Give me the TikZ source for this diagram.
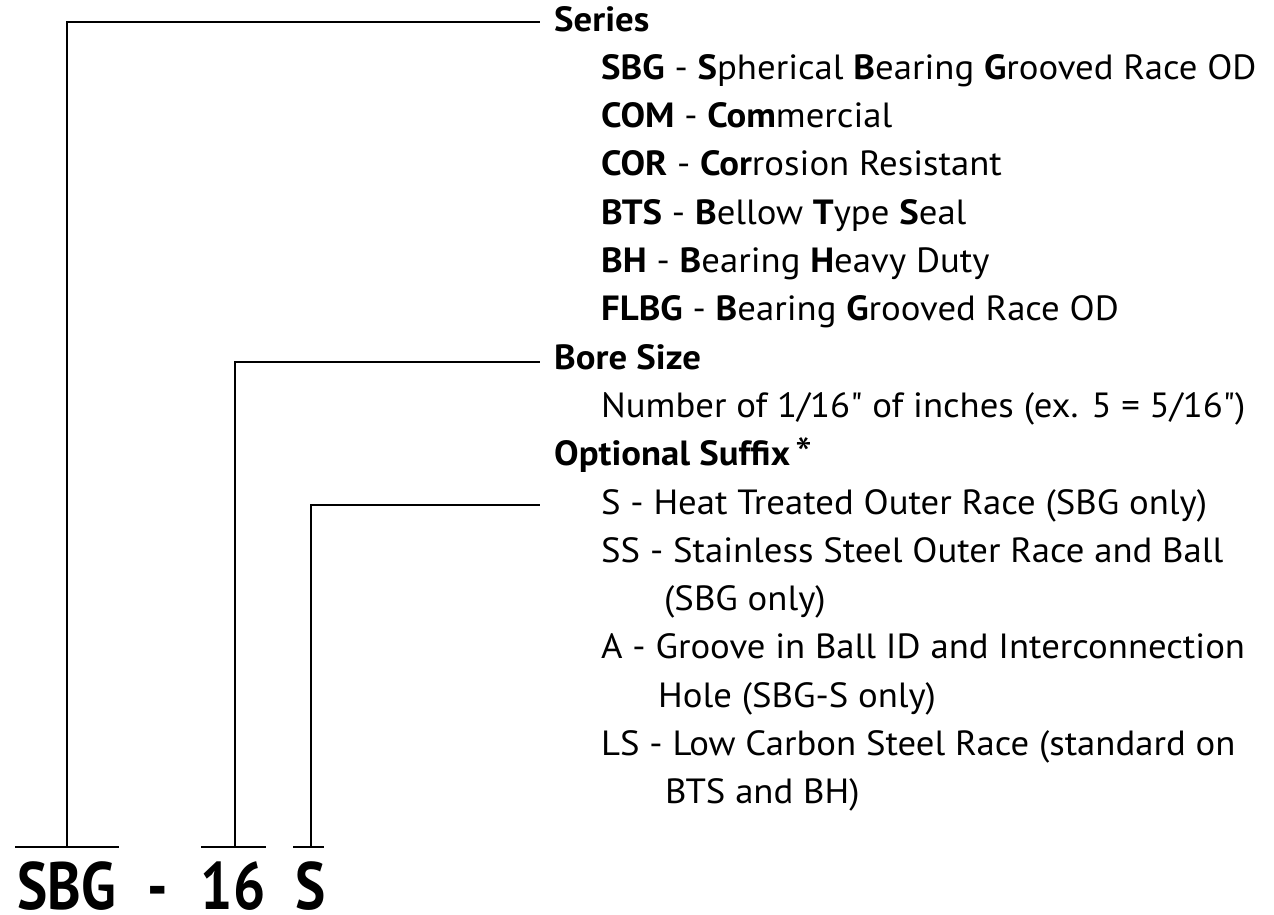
\documentclass[tikz,border=0pt]{standalone}
\usepackage{fontspec}
\setmainfont{PT Sans}[FakeStretch=1.05,Ligatures=TeXOff]
\newfontfamily\codefont{PT Sans}[FakeStretch=0.85]
\begin{document}
\begin{tikzpicture}[x=1pt,y=-1pt,
  lbl/.style={anchor=base west,inner sep=0pt,font=\fontsize{35}{40}\selectfont},
  hd/.style={lbl,font=\fontsize{35}{40}\selectfont\bfseries},
  code/.style={anchor=base,inner sep=0pt,text depth=0pt,font=\codefont\fontsize{67}{70}\selectfont\bfseries},
  conn/.style={line width=2.6pt},
  bar/.style={line width=2.6pt}]
\useasboundingbox (0,0) rectangle (1274,914);
\def\p{48.3}
% right-hand text
\node[hd]  (series) at (554,31+0*\p) {Series};
\node[lbl] (l1) at (601,31+1*\p) {\textbf{SBG} - \textbf{S}pherical \textbf{B}earing \textbf{G}rooved Race OD};
\node[lbl] (l2) at (601,31+2*\p) {\textbf{COM} - \textbf{Com}mercial};
\node[lbl] (l3) at (601,31+3*\p) {\textbf{COR} - \textbf{Cor}rosion Resistant};
\node[lbl] (l4) at (601,31+4*\p) {\textbf{BTS} - \textbf{B}ellow \textbf{T}ype \textbf{S}eal};
\node[lbl] (l5) at (601,31+5*\p) {\textbf{BH} - \textbf{B}earing \textbf{H}eavy Duty};
\node[lbl] (l6) at (601,31+6*\p) {\textbf{FLBG} - \textbf{B}earing \textbf{G}rooved Race OD};
\node[hd]  (bore) at (554,31+7*\p) {Bore Size};
\node[lbl] (l8) at (601,31+8*\p) {Number of 1/16" of inches (ex. 5 = 5/16")};
\node[hd]  (opt) at (554,31+9*\p) {Optional Suffix\,\raisebox{-5pt}{\mdseries\fontsize{46}{46}\selectfont*}};
\node[lbl] (l10) at (601,31+10*\p) {S - Heat Treated Outer Race (SBG only)};
\node[lbl] (l11) at (601,31+11*\p) {SS - Stainless Steel Outer Race and Ball};
\node[lbl] (l12) at (664,31+12*\p) {(SBG only)};
\node[lbl] (l13) at (601,31+13*\p) {A - Groove in Ball ID and Interconnection};
\node[lbl] (l14) at (658,31+14*\p) {Hole (SBG-S only)};
\node[lbl] (l15) at (601,31+15*\p) {LS - Low Carbon Steel Race (standard on};
\node[lbl] (l16) at (665,31+16*\p) {BTS and BH)};
% part code
\node[code] (sbg) at (67,909) {SBG};
\node[code] (dash) at (158,909) {-};
\node[code] (num) at (233,909) {16};
\node[code] (suf) at (311,909) {S};
% bars over the parts
\coordinate (b1) at (67,847);
\coordinate (b2) at (235,847);
\coordinate (b3) at (311,847);
\draw[bar] (15,847) -- (119,847);
\draw[bar] (201,847) -- (266,847);
\draw[bar] (293,847) -- (324,847);
% connector ends
\coordinate (e1) at (540,22);
\coordinate (e2) at (540,362);
\coordinate (e3) at (540,505);
\draw[conn] (b1) |- (e1);
\draw[conn] (b2) |- (e2);
\draw[conn] (b3) |- (e3);
\end{tikzpicture}
\end{document}
